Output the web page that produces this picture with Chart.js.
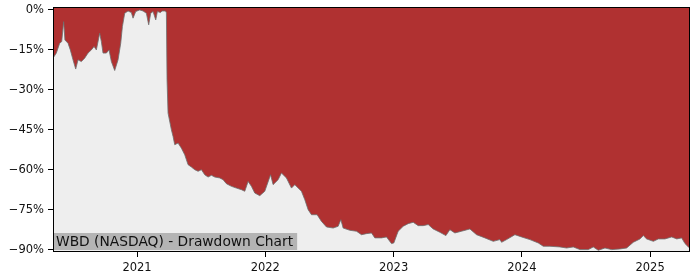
<!DOCTYPE html>
<html>
<head>
<meta charset="utf-8">
<script src="https://cdn.jsdelivr.net/npm/chart.js@4/dist/chart.umd.min.js"></script>
<style>
  html, body { margin: 0; padding: 0; background: #fff; }
  #wrap { width: 700px; height: 280px; }
</style>
</head>
<body>
<div id="wrap"><canvas id="ddChart" width="700" height="280"></canvas></div>
<script>
// dates as decimal years, drawdown in percent
const dates = [
  2020.345, 2020.371, 2020.397, 2020.413, 2020.428, 2020.438, 2020.462, 2020.480,
  2020.501, 2020.522, 2020.540, 2020.566, 2020.592, 2020.618, 2020.644, 2020.665,
  2020.683, 2020.709, 2020.722, 2020.735, 2020.761, 2020.782, 2020.800, 2020.826,
  2020.852, 2020.873, 2020.886, 2020.904, 2020.930, 2020.956, 2020.969, 2020.990,
  2021.021, 2021.047, 2021.073, 2021.091, 2021.107, 2021.125, 2021.146, 2021.159,
  2021.183, 2021.195, 2021.222, 2021.229, 2021.234, 2021.242, 2021.268, 2021.281,
  2021.294, 2021.320, 2021.346, 2021.372, 2021.398, 2021.424, 2021.450, 2021.476,
  2021.502, 2021.528, 2021.554, 2021.580, 2021.606, 2021.645, 2021.671, 2021.697,
  2021.736, 2021.775, 2021.814, 2021.840, 2021.866, 2021.892, 2021.918, 2021.957,
  2021.996, 2022.041, 2022.061, 2022.100, 2022.126, 2022.165, 2022.204, 2022.230,
  2022.282, 2022.308, 2022.334, 2022.360, 2022.404, 2022.438, 2022.477, 2022.529,
  2022.568, 2022.589, 2022.607, 2022.659, 2022.711, 2022.750, 2022.789, 2022.828,
  2022.854, 2022.906, 2022.945, 2022.984, 2023.002, 2023.036, 2023.075, 2023.114,
  2023.153, 2023.192, 2023.231, 2023.270, 2023.309, 2023.361, 2023.408, 2023.439,
  2023.478, 2023.530, 2023.595, 2023.647, 2023.712, 2023.777, 2023.829, 2023.842,
  2023.881, 2023.946, 2023.998, 2024.063, 2024.128, 2024.167, 2024.219, 2024.297,
  2024.349, 2024.401, 2024.453, 2024.518, 2024.557, 2024.596, 2024.648, 2024.700,
  2024.765, 2024.817, 2024.869, 2024.921, 2024.947, 2024.973, 2025.025, 2025.064,
  2025.116, 2025.168, 2025.208, 2025.246, 2025.272, 2025.298, 2025.311
];
const drawdown = [
  -18.1, -16.2, -12.5, -11.9, -4.4, -11.3, -12.5, -15.0,
  -18.75, -22.2, -18.75, -19.4, -18.1, -16.2, -15.0, -13.75,
  -15.0, -8.75, -11.9, -16.2, -16.2, -15.0, -19.4, -22.75,
  -18.75, -12.5, -6.25, -1.25, -0.4, -1.0, -3.1, -0.6,
  0.0, -0.4, -1.25, -5.6, -1.2, -0.6, -3.75, -0.6,
  -1.0, -0.4, -0.4, -1.1, -26.25, -38.75, -45.0, -47.5,
  -50.6, -50.0, -51.9, -54.4, -58.1, -59.0, -60.0, -60.6,
  -60.0, -61.9, -62.75, -62.1, -62.75, -63.1, -63.75, -65.25,
  -66.25, -66.9, -67.5, -68.1, -64.4, -66.25, -68.75, -69.75,
  -68.1, -61.9, -65.6, -63.75, -61.25, -63.1, -66.9, -65.6,
  -68.1, -71.25, -75.0, -76.9, -76.9, -79.4, -81.5, -81.9,
  -81.25, -78.75, -81.9, -82.75, -83.1, -84.4, -84.0, -83.75,
  -85.6, -85.6, -85.25, -87.75, -87.5, -83.1, -81.25, -80.25,
  -79.75, -81.0, -81.0, -80.6, -82.25, -83.5, -84.75, -82.5,
  -83.75, -83.1, -82.25, -84.4, -85.6, -86.9, -86.25, -87.25,
  -86.25, -84.4, -85.25, -86.25, -87.5, -88.75, -88.75, -89.0,
  -89.4, -89.0, -90.0, -90.0, -89.0, -90.25, -89.4, -90.0,
  -89.75, -89.4, -87.25, -86.0, -84.75, -86.0, -86.9, -86.0,
  -86.0, -85.25, -86.0, -85.6, -87.75, -89.0, -89.4
];
const yearTicks = [2021, 2022, 2023, 2024, 2025];
const pctTicks = [-90, -75, -60, -45, -30, -15, 0];
const chartLabel = "WBD (NASDAQ) - Drawdown Chart";

const points = dates.map((d, i) => ({ x: d, y: drawdown[i] }));

// grey plot background, frame and label box
const plotDecor = {
  id: "plotDecor",
  beforeDatasetsDraw(chart) {
    const { ctx, chartArea: a } = chart;
    ctx.save();
    ctx.fillStyle = "#eeeeee";
    ctx.fillRect(a.left, a.top, a.right - a.left, a.bottom - a.top);
    ctx.restore();
  },
  afterDatasetsDraw(chart) {
    const { ctx, chartArea: a } = chart;
    ctx.save();
    ctx.font = "13.8px 'DejaVu Sans'";
    const w = ctx.measureText(chartLabel).width;
    ctx.fillStyle = "#b4b4b4";
    ctx.fillRect(a.left, a.bottom - 19, w + 7, 17);
    ctx.fillStyle = "#111";
    ctx.textBaseline = "alphabetic";
    ctx.fillText(chartLabel, a.left + 3, a.bottom - 6);
    ctx.strokeStyle = "#000";
    ctx.lineWidth = 1;
    ctx.strokeRect(a.left + 0.5, a.top + 0.5, a.right - a.left - 1, a.bottom - a.top - 1);
    ctx.restore();
  }
};

new Chart(document.getElementById("ddChart"), {
  type: "line",
  data: {
    datasets: [{
      data: points,
      borderColor: "rgba(110,110,110,0.8)",
      borderWidth: 1,
      backgroundColor: "#b03131",
      fill: "end",
      pointRadius: 0,
      tension: 0
    }]
  },
  options: {
    responsive: false,
    animation: false,
    layout: { padding: { left: 0, right: 10, top: 7, bottom: 0 } },
    plugins: { legend: { display: false }, tooltip: { enabled: false } },
    scales: {
      x: {
        type: "linear",
        min: 2020.345,
        max: 2025.311,
        afterBuildTicks: (s) => { s.ticks = yearTicks.map(v => ({ value: v })); },
        afterFit: (s) => { s.height = 28; s.paddingLeft = 0; s.paddingRight = 0; },
        ticks: {
          color: "#111",
          padding: 4,
          maxRotation: 0,
          font: { family: "DejaVu Sans", size: 11.5 },
          callback: (v) => String(v)
        },
        grid: { drawOnChartArea: false, drawTicks: true, tickLength: 5, color: "#000" },
        border: { display: false }
      },
      y: {
        min: -90.9,
        max: 1.1,
        afterBuildTicks: (s) => { s.ticks = pctTicks.map(v => ({ value: v })); },
        afterFit: (s) => { s.width = 53; s.paddingTop = 0; s.paddingBottom = 0; },
        ticks: {
          color: "#111",
          padding: 4,
          font: { family: "DejaVu Sans", size: 11.5 },
          callback: (v) => (v < 0 ? "\u2212" + Math.abs(v) : v) + "%"
        },
        grid: { drawOnChartArea: false, drawTicks: true, tickLength: 5, color: "#000" },
        border: { display: false }
      }
    }
  },
  plugins: [plotDecor]
});
</script>
</body>
</html>
